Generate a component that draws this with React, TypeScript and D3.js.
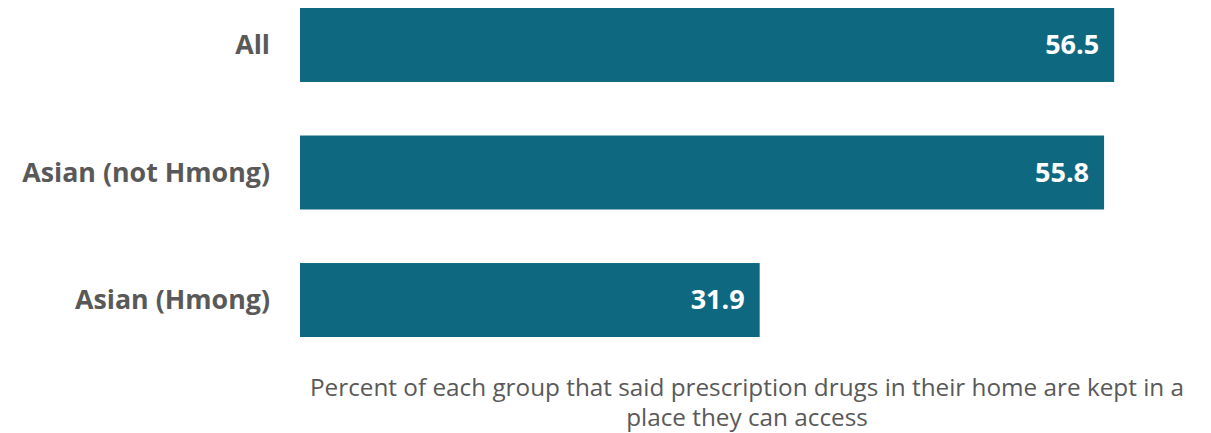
import React from "react";
import * as d3 from "d3";

const categories = ["All", "Asian (not Hmong)", "Asian (Hmong)"];
const values = [56.5, 55.8, 31.9];
const titleLines = [
  "Percent of each group that said prescription drugs in their home are kept in a",
  "place they can access",
];

const W = 1211;
const H = 433;
const BAR = "#0D6880";
const GREY = "#595959";
const FONT = "'Open Sans', sans-serif";

export default function App() {
  const x = d3.scaleLinear().domain([0, 60]).range([300, 1164.6]);
  const y = d3
    .scaleBand<string>()
    .domain(categories)
    .range([8, 337])
    .paddingInner(0.42)
    .paddingOuter(0);

  return (
    <svg
      width={W}
      height={H}
      style={{ position: "absolute", left: 0, top: 0, display: "block" }}
      fontFamily={FONT}
    >
      {categories.map((c, i) => {
        const y0 = y(c)!;
        const bw = y.bandwidth();
        return (
          <g key={c}>
            <rect x={x(0)} y={y0} width={x(values[i]) - x(0)} height={bw} fill={BAR} />
            <text
              x={270}
              y={y0 + bw / 2}
              dy="0.35em"
              textAnchor="end"
              fontSize={26.8}
              fontWeight={700}
              fill={GREY}
            >
              {c}
            </text>
            <text
              x={x(values[i]) - 15}
              y={y0 + bw / 2}
              dy="0.35em"
              textAnchor="end"
              fontSize={27}
              fontWeight={700}
              fill="#ffffff"
            >
              {values[i].toFixed(1)}
            </text>
          </g>
        );
      })}
      {titleLines.map((t, i) => (
        <text
          key={i}
          x={747}
          y={396 + i * 30}
          textAnchor="middle"
          fontSize={24.3}
          fill={GREY}
        >
          {t}
        </text>
      ))}
    </svg>
  );
}
